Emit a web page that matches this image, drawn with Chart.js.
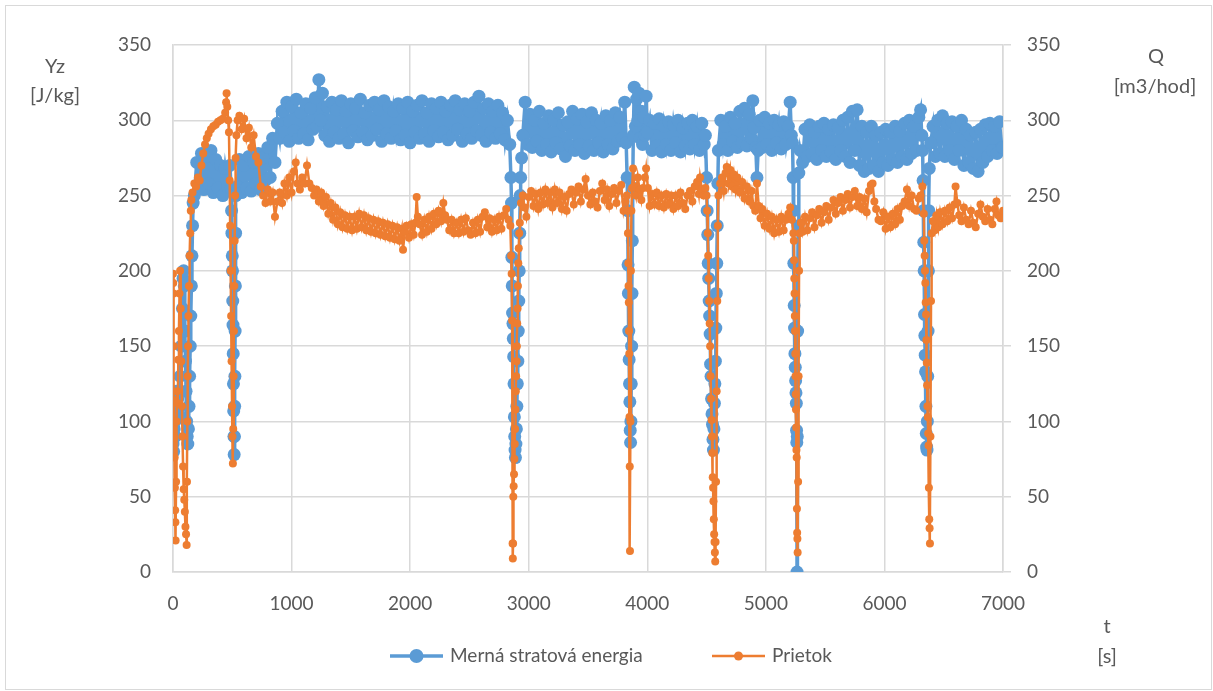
<!DOCTYPE html>
<html>
<head>
<meta charset="utf-8">
<script src="https://cdn.jsdelivr.net/npm/chart.js@4.4.1/dist/chart.umd.min.js"></script>
<style>
  html, body { margin: 0; padding: 0; background: #fff; }
  canvas { display: block; }
</style>
</head>
<body>
<canvas id="graf" width="1213" height="691"></canvas>
<script>
// ---- data (t [s], value) ----
const merna = [
  [0,85],[5,80],[10,95],[15,100],[20,90],[25,110],[30,120],[40,115],[50,105],[60,130],[70,150],[80,175],[85,195],[90,200],[95,190],[100,160],[105,140],[110,120],[115,100],[120,90],[125,85],[130,95],[135,110],[140,130],[145,150],[150,170],[155,190],[160,210],[165,230],[170,245],
  [180,250],[200,272],[220,256],[240,278],[260,254],[280,276],[300,258],[320,280],[340,252],[360,274],[380,255],[400,270],[420,250],[440,268],[460,256],[480,270],
  [490,255],[494,240],[497,225],[500,210],[502,200],[504,180],[506,164],[508,145],[510,125],[512,107],[514,90],[516,78],[518,90],[520,110],[522,130],[524,160],[526,190],[528,225],[530,250],
  [540,256],[560,274],[580,252],[600,270],[620,255],[640,276],[660,253],[680,272],[700,258],[720,278],[740,254],[760,275],[780,260],[800,282],[820,262],[840,288],[860,272],[880,298],
  [900,288],[920,306],[940,292],[960,312],[980,286],[1000,309],[1020,293],[1040,314],[1060,288],[1080,305],[1100,291],[1120,311],[1140,287],[1160,308],[1180,294],[1200,315],[1215,296],[1230,327],[1245,300],[1260,318],[1280,290],[1300,309],[1320,286],[1340,312],[1360,292],[1380,307],[1400,288],[1420,313],[1440,291],[1460,306],[1480,285],[1500,311],[1520,293],[1540,308],[1560,289],[1580,314],[1600,292],[1620,305],[1640,287],[1660,310],[1680,290],[1700,312],[1720,294],[1740,307],[1760,286],[1780,313],[1800,291],[1820,309],[1840,288],[1860,306],[1880,293],[1900,311],[1920,287],[1940,308],[1960,290],[1980,312],[2000,285],[2020,306],[2040,292],[2060,310],[2080,288],[2100,313],[2120,291],[2140,305],[2160,286],[2180,311],[2200,293],[2220,308],[2240,289],[2260,312],[2280,292],[2300,306],[2320,287],[2340,310],[2360,290],[2380,313],[2400,294],[2420,307],[2440,286],[2460,311],[2480,291],[2500,306],[2520,288],[2540,312],[2560,293],[2580,316],[2600,290],[2620,308],[2640,286],[2660,311],[2680,292],[2700,306],[2720,288],[2740,310],[2760,291],[2780,305],[2800,287],[2820,300],[2840,284],
  [2850,262],[2855,245],[2858,209],[2861,190],[2864,172],[2867,165],[2870,155],[2873,143],[2876,125],[2879,103],[2882,90],[2885,81],[2888,76],[2892,85],[2896,95],[2900,110],[2904,125],[2908,140],[2912,160],[2916,180],[2920,200],[2924,225],[2928,250],[2932,262],[2940,275],
  [2950,290],[2970,312],[2990,284],[3010,304],[3030,282],[3050,300],[3070,286],[3090,306],[3110,280],[3130,298],[3150,284],[3170,303],[3190,279],[3210,300],[3230,285],[3250,305],[3270,281],[3290,297],[3310,276],[3330,299],[3350,283],[3370,306],[3390,280],[3410,301],[3430,284],[3450,304],[3470,278],[3490,299],[3510,283],[3530,305],[3550,280],[3570,300],[3590,285],[3610,298],[3630,279],[3650,303],[3670,284],[3690,300],[3710,281],[3730,305],[3750,286],[3770,302],[3790,288],[3810,312],[3822,285],[3830,262],
  [3835,240],[3838,204],[3841,185],[3844,160],[3847,141],[3850,125],[3853,113],[3856,94],[3859,86],[3862,100],[3865,125],[3868,150],[3871,185],[3874,220],[3877,255],
  [3882,290],[3890,322],[3900,296],[3910,314],[3920,300],[3930,318],[3940,288],[3950,306],[3960,284],[3970,302],[3980,290],[3990,316],[4000,292],[4020,300],[4040,280],[4060,298],[4080,283],[4100,301],[4120,279],[4140,296],[4160,284],[4180,299],[4200,280],[4220,297],[4240,285],[4260,300],[4280,279],[4300,295],[4320,283],[4340,298],[4360,281],[4380,300],[4400,284],[4420,296],[4440,280],[4460,298],[4480,284],[4490,290],
  [4500,262],[4505,240],[4510,224],[4514,205],[4518,195],[4522,180],[4526,170],[4530,158],[4534,138],[4538,130],[4542,115],[4546,105],[4550,98],[4554,88],[4558,81],[4562,95],[4566,112],[4570,125],[4574,140],[4578,162],[4582,185],[4586,205],[4590,230],[4595,258],
  [4600,280],[4620,300],[4640,284],[4660,296],[4680,280],[4700,302],[4720,286],[4740,298],[4760,282],[4780,306],[4800,285],[4820,308],[4840,283],[4860,304],[4880,288],[4890,313],[4900,295],[4915,282],[4925,262],[4935,280],[4950,300],[4970,282],[4990,302],[5010,284],[5030,298],[5050,280],[5070,300],[5090,285],[5110,297],[5130,281],[5150,299],[5170,284],[5190,296],[5205,312],[5215,290],[5225,285],
  [5230,262],[5233,240],[5236,205],[5239,177],[5242,162],[5245,145],[5248,136],[5251,127],[5254,119],[5257,112],[5259,94],[5261,86],[5263,0],[5265,90],[5268,160],[5272,230],[5278,265],
  [5290,280],[5310,272],[5330,294],[5350,276],[5370,297],[5390,278],[5410,292],[5430,274],[5450,296],[5470,280],[5490,298],[5510,276],[5530,294],[5550,279],[5570,297],[5590,274],[5610,295],[5630,280],[5650,300],[5670,276],[5690,302],[5710,272],[5730,306],[5750,280],[5770,307],[5790,270],[5810,296],[5830,266],[5850,292],[5870,268],[5890,296],[5910,270],[5930,290],[5950,266],[5970,292],[5990,272],[6010,294],[6030,270],[6050,292],[6070,274],[6090,296],[6110,272],[6130,293],[6150,276],[6170,298],[6190,274],[6210,300],[6230,278],[6250,296],[6270,280],[6290,302],[6305,307],[6315,290],
  [6322,280],[6326,260],[6329,240],[6332,219],[6335,200],[6338,171],[6341,157],[6344,144],[6347,133],[6350,110],[6353,92],[6356,83],[6359,81],[6362,100],[6365,130],[6368,160],[6371,200],[6374,240],[6378,268],
  [6390,285],[6410,296],[6430,276],[6450,300],[6470,278],[6490,303],[6510,276],[6530,298],[6550,280],[6570,299],[6590,274],[6610,296],[6630,280],[6650,300],[6670,270],[6690,294],[6710,272],[6730,290],[6750,268],[6770,292],[6790,266],[6810,294],[6830,272],[6850,297],[6870,276],[6890,298],[6910,280],[6930,296],[6950,278],[6970,299],[6990,282],[7000,282]
];

const prietok = [
  [0,198],[2,192],[4,185],[6,150],[8,114],[10,99],[12,89],[14,76],[16,56],[18,41],[20,33],[22,21],[26,60],[30,100],[35,120],[40,112],[45,141],[50,160],[55,185],[60,200],[65,175],[70,140],[75,110],[80,90],[85,70],[90,55],[95,48],[100,40],[105,30],[110,25],[115,18],[118,60],[121,100],[124,130],[127,150],[130,170],[135,190],[140,210],[145,225],[150,240],
  [155,247],[165,252],[180,258],[195,256],[210,262],[225,260],[240,270],[255,278],[270,284],[285,288],[300,291],[320,294],[340,296],[360,297],[380,299],[400,300],[420,301],[440,305],[448,312],[452,318],[458,309],[465,300],[472,292],
  [478,260],[482,230],[486,200],[490,170],[494,140],[498,110],[502,90],[505,72],[508,95],[511,130],[514,160],[517,190],[520,220],[524,250],[528,275],[535,290],[545,300],
  [560,303],[580,294],[600,301],[620,288],[640,295],[660,282],[680,290],[700,276],[720,272],[740,256],[760,250],[780,245],[800,254],[820,246],[840,252],[860,236],[880,246],[900,252],[920,245],[940,258],[960,250],[980,262],[1000,252],[1020,266],[1035,272],[1050,258],[1070,254],[1090,262],[1110,258],[1130,270],[1150,258],[1170,255],[1190,250],[1210,254],[1230,246],[1250,252],[1270,243],[1290,249],[1310,238],[1330,245],[1350,234],[1370,242],[1390,231],[1410,239],[1430,229],[1450,237],[1470,228],[1490,236],[1510,227],[1530,236],[1550,228],[1570,238],[1590,229],[1610,237],[1630,227],[1650,235],[1670,226],[1690,234],[1710,225],[1730,233],[1750,224],[1770,232],[1790,223],[1810,231],[1830,222],[1850,230],[1870,221],[1890,229],[1910,220],[1930,228],[1940,214],[1955,226],[1970,230],[1990,222],[2010,231],[2030,224],[2045,232],[2055,249],[2065,236],[2080,231],[2100,224],[2120,234],[2140,226],[2160,236],[2180,228],[2200,238],[2220,231],[2240,240],[2260,233],[2280,245],[2295,237],[2310,234],[2330,227],[2350,234],[2370,225],[2390,232],[2410,225],[2430,234],[2450,226],[2470,235],[2490,227],[2510,224],[2530,232],[2550,225],[2570,234],[2590,226],[2610,236],[2630,239],[2650,229],[2670,235],[2690,226],[2710,234],[2730,227],[2750,236],[2770,228],[2790,237],[2810,241],[2830,234],[2845,230],
  [2852,210],[2856,198],[2860,167],[2864,19],[2866,9],[2868,19],[2870,50],[2873,57],[2876,65],[2879,75],[2882,85],[2885,95],[2888,108],[2891,120],[2894,130],[2897,140],[2900,150],[2903,165],[2906,175],[2909,190],[2912,205],[2916,215],[2920,225],[2925,232],[2935,245],
  [2950,250],[2965,242],[2980,236],[3000,249],[3020,253],[3040,243],[3060,251],[3080,241],[3100,252],[3120,244],[3140,254],[3160,245],[3180,252],[3200,242],[3220,254],[3240,245],[3260,252],[3280,241],[3300,249],[3320,240],[3340,251],[3360,254],[3380,244],[3400,252],[3420,256],[3440,246],[3460,254],[3480,261],[3500,250],[3520,244],[3540,252],[3560,246],[3580,242],[3600,253],[3620,258],[3640,247],[3660,254],[3680,243],[3700,251],[3720,255],[3740,245],[3760,253],[3780,257],[3800,240],[3815,246],[3828,250],
  [3834,240],[3837,225],[3840,205],[3842,190],[3844,179],[3846,160],[3848,145],[3850,103],[3852,70],[3854,14],[3858,100],[3862,200],
  [3866,240],[3872,255],[3880,268],[3890,256],[3905,250],[3920,262],[3935,254],[3950,247],[3965,255],[3980,262],[3990,268],[4005,255],[4020,243],[4040,251],[4060,244],[4080,252],[4100,243],[4120,250],[4140,242],[4160,251],[4180,244],[4200,250],[4220,241],[4240,250],[4260,243],[4280,252],[4300,245],[4320,241],[4340,250],[4360,253],[4380,246],[4400,256],[4420,259],[4435,251],[4445,262],[4460,254],[4475,250],[4490,255],
  [4500,250],[4505,240],[4510,225],[4514,210],[4518,195],[4522,180],[4526,165],[4530,150],[4534,130],[4538,115],[4542,101],[4546,90],[4549,79],[4552,63],[4555,56],[4558,47],[4561,35],[4564,25],[4567,20],[4570,13],[4573,7],[4576,20],[4580,60],[4585,120],[4590,180],[4595,230],
  [4600,250],[4615,258],[4630,262],[4645,253],[4660,265],[4670,269],[4685,258],[4700,267],[4715,256],[4730,264],[4745,254],[4760,262],[4780,252],[4800,259],[4820,248],[4840,256],[4860,246],[4880,253],[4895,243],[4910,240],[4925,258],[4940,243],[4955,235],[4970,241],[4990,230],[5010,238],[5030,228],[5050,236],[5070,225],[5090,234],[5110,226],[5130,236],[5150,227],[5170,234],[5190,238],[5205,242],[5220,234],[5232,225],
  [5236,220],[5238,207],[5240,195],[5242,185],[5244,170],[5246,160],[5248,145],[5250,130],[5252,118],[5254,108],[5256,96],[5258,81],[5260,76],[5262,42],[5264,26],[5266,22],[5268,13],[5272,60],[5276,130],[5280,200],[5285,225],
  [5295,232],[5310,226],[5330,236],[5350,227],[5370,235],[5390,239],[5410,229],[5430,237],[5450,241],[5470,232],[5490,239],[5510,243],[5530,234],[5550,242],[5570,247],[5590,238],[5610,245],[5630,249],[5650,240],[5670,247],[5690,251],[5710,242],[5730,249],[5750,253],[5770,243],[5790,249],[5810,241],[5830,248],[5850,239],[5870,253],[5885,257],[5900,258],[5915,246],[5930,241],[5950,234],[5970,233],[5990,239],[6010,228],[6030,236],[6050,229],[6070,238],[6090,231],[6110,241],[6130,234],[6150,243],[6170,246],[6190,254],[6210,243],[6230,250],[6250,241],[6270,240],[6290,248],[6305,250],[6320,256],[6332,238],
  [6336,220],[6339,210],[6342,200],[6345,192],[6348,179],[6351,171],[6354,154],[6357,139],[6360,124],[6363,110],[6366,103],[6369,92],[6372,84],[6375,56],[6378,35],[6381,29],[6384,19],[6388,90],[6393,180],
  [6398,225],[6410,233],[6425,227],[6440,237],[6455,229],[6470,239],[6490,231],[6510,240],[6530,233],[6550,242],[6570,235],[6590,244],[6600,256],[6615,245],[6630,237],[6650,233],[6670,242],[6690,234],[6710,231],[6730,240],[6750,232],[6770,229],[6790,238],[6810,244],[6830,236],[6850,233],[6870,241],[6890,234],[6910,231],[6930,241],[6945,246],[6960,237],[6980,235],[7000,240]
];

const osX = { min: 0, max: 7000, krok: 1000 };
const osY = { min: 0, max: 350, krok: 50 };

const MODRA = '#5B9BD5';
const ORANZ = '#ED7D31';
const SIVA_TEXT = '#595959';
const SIVA_MRIEZKA = '#d9d9d9';
const FONT = 'Lato, "Open Sans", sans-serif';

// ---- popisky osi, legenda, ram ----
const popisky = {
  id: 'popisky',
  afterDraw(chart) {
    const c = chart.ctx;
    c.save();
    c.fillStyle = SIVA_TEXT;
    c.font = '20px ' + FONT;
    c.textAlign = 'center';
    c.textBaseline = 'middle';
    c.fillText('Yz', 55, 67);
    c.fillText('[J/kg]', 55, 96);
    c.fillText('Q', 1156, 57);
    c.fillText('[m3/hod]', 1155, 87);
    c.fillText('t', 1107, 627);
    c.fillText('[s]', 1107, 657);

    // legenda
    const polozky = [
      { ds: chart.data.datasets[1], x: 390, r: 7, w: 3.5 },
      { ds: chart.data.datasets[0], x: 712, r: 4.5, w: 2.5 }
    ];
    c.font = '19px ' + FONT;
    c.textAlign = 'left';
    polozky.forEach(p => {
      const y = 656;
      c.strokeStyle = p.ds.borderColor;
      c.lineWidth = p.w;
      c.beginPath();
      c.moveTo(p.x, y);
      c.lineTo(p.x + 53, y);
      c.stroke();
      c.fillStyle = p.ds.backgroundColor;
      c.beginPath();
      c.arc(p.x + 26.5, y, p.r, 0, Math.PI * 2);
      c.fill();
      c.fillStyle = SIVA_TEXT;
      c.fillText(p.ds.label, p.x + 60, y);
    });

    c.strokeStyle = SIVA_MRIEZKA;
    c.lineWidth = 1;
    c.strokeRect(5.5, 5.5, 1206, 684);
    c.restore();
  }
};

const ctx = document.getElementById('graf').getContext('2d');
new Chart(ctx, {
  type: 'scatter',
  data: {
    datasets: [
      {
        label: 'Prietok',
        data: prietok.map(([t, v]) => ({ x: t, y: v })),
        yAxisID: 'y1',
        showLine: true,
        borderColor: ORANZ,
        backgroundColor: ORANZ,
        borderWidth: 2.5,
        pointRadius: 4,
        pointBorderWidth: 0,
        order: 0
      },
      {
        label: 'Merná stratová energia',
        data: merna.map(([t, v]) => ({ x: t, y: v })),
        yAxisID: 'y',
        showLine: true,
        borderColor: MODRA,
        backgroundColor: MODRA,
        borderWidth: 3.5,
        pointRadius: 6.5,
        pointBorderWidth: 0,
        order: 1
      }
    ]
  },
  options: {
    responsive: false,
    animation: false,
    devicePixelRatio: 1,
    layout: { padding: { top: 45, left: 0, right: 0, bottom: 0 } },
    plugins: {
      legend: { display: false },
      tooltip: { enabled: false }
    },
    scales: {
      x: {
        type: 'linear',
        min: osX.min,
        max: osX.max,
        ticks: { stepSize: osX.krok, color: SIVA_TEXT, font: { family: FONT, size: 19 }, padding: 20, callback: v => String(v) },
        grid: { color: SIVA_MRIEZKA, lineWidth: 1.5, drawTicks: false },
        border: { color: SIVA_MRIEZKA, width: 1.5 },
        afterFit: s => { s.height = 119; }
      },
      y: {
        position: 'left',
        min: osY.min,
        max: osY.max,
        ticks: { stepSize: osY.krok, color: SIVA_TEXT, font: { family: FONT, size: 19 }, padding: 22 },
        grid: { color: SIVA_MRIEZKA, lineWidth: 1.5, drawTicks: false },
        border: { color: SIVA_MRIEZKA, width: 1.5 },
        afterFit: s => { s.width = 173; }
      },
      y1: {
        position: 'right',
        min: osY.min,
        max: osY.max,
        ticks: { stepSize: osY.krok, color: SIVA_TEXT, font: { family: FONT, size: 19 }, padding: 16 },
        grid: { drawOnChartArea: false, color: SIVA_MRIEZKA, lineWidth: 1.5, tickLength: 8 },
        border: { color: SIVA_MRIEZKA, width: 1.5 },
        afterFit: s => { s.width = 210; }
      }
    }
  },
  plugins: [popisky]
});
</script>
</body>
</html>
